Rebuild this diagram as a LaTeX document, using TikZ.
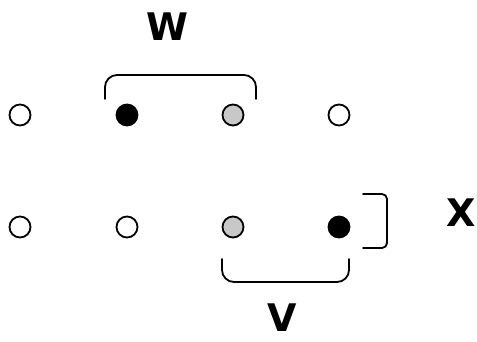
\documentclass[tikz,border=0pt]{standalone}
\usepackage{fontspec}
\setmainfont{DejaVu Sans}
\begin{document}
\begin{tikzpicture}[x=1pt,y=-1pt,
  dot/.style={circle,draw=black,line width=1.8pt,minimum size=21pt,inner sep=0pt},
  emptydot/.style={dot,fill=white},
  blackdot/.style={dot,fill=black},
  greydot/.style={dot,fill={rgb,255:red,200;green,200;blue,200}},
  brace/.style={line width=1.8pt,line cap=round},
  lab/.style={font=\fontsize{38}{38}\selectfont\bfseries,inner sep=0pt,anchor=center}]
\useasboundingbox (0,0) rectangle (477,341);
\node[emptydot] (a1) at (20,115) {};
\node[blackdot] (a2) at (127,115) {};
\node[greydot]  (a3) at (233,115) {};
\node[emptydot] (a4) at (339,115) {};
\node[emptydot] (b1) at (20,227) {};
\node[emptydot] (b2) at (127,227) {};
\node[greydot]  (b3) at (233,227) {};
\node[blackdot] (b4) at (339,227) {};
\draw[brace,rounded corners=12pt] (105,99) -- (105,75) -- (256,75) -- (256,99);
\draw[brace,rounded corners=12pt] (222,259) -- (222,282) -- (349,282) -- (349,259);
\draw[brace,rounded corners=5pt] (363,194) -- (387,194) -- (387,248) -- (363,248);
\node[lab] (w) at (167,27) {W};
\node[lab] (v) at (282,318) {V};
\node[lab] (x) at (461,213) {X};
\end{tikzpicture}
\end{document}
